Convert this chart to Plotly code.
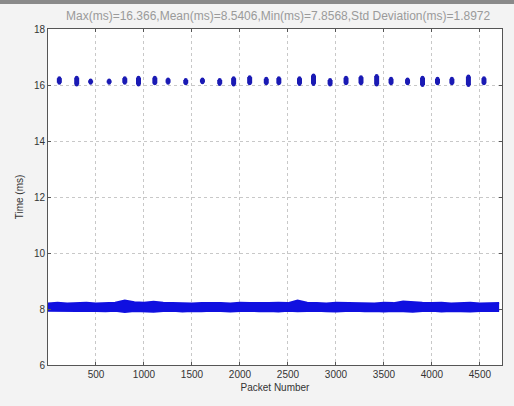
import plotly.graph_objects as go

# Main band (~8 ms) read as upper/lower envelope every 100 packets
band_x = list(range(0, 4800, 100))
band_hi = [8.20, 8.22, 8.20, 8.21, 8.22, 8.20, 8.21, 8.22, 8.30, 8.24, 8.22, 8.26, 8.22, 8.21, 8.22, 8.20,
           8.21, 8.22, 8.21, 8.20, 8.22, 8.21, 8.20, 8.21, 8.22, 8.21, 8.30, 8.22, 8.21, 8.20, 8.22, 8.21,
           8.22, 8.21, 8.20, 8.22, 8.21, 8.27, 8.24, 8.22, 8.21, 8.22, 8.20, 8.21, 8.22, 8.20, 8.21, 8.21]
band_lo = [7.94, 7.93, 7.94, 7.93, 7.94, 7.93, 7.92, 7.94, 7.89, 7.93, 7.92, 7.90, 7.93, 7.94, 7.91, 7.93,
           7.92, 7.94, 7.93, 7.91, 7.93, 7.94, 7.92, 7.93, 7.91, 7.94, 7.92, 7.93, 7.94, 7.92, 7.91, 7.93,
           7.94, 7.92, 7.93, 7.91, 7.93, 7.92, 7.90, 7.93, 7.94, 7.91, 7.93, 7.92, 7.91, 7.93, 7.92, 7.93]

# Upper clusters (~16 ms)
cluster_x = [118, 299, 444, 637, 800, 943, 1113, 1251, 1435, 1609, 1789, 1934, 2101, 2274, 2405, 2620,
             2766, 2939, 3105, 3261, 3424, 3574, 3746, 3902, 4058, 4208, 4380, 4542]
cluster_lo = [16.08, 16.02, 16.08, 16.08, 16.08, 16.02, 16.06, 16.08, 16.06, 16.10, 16.04, 16.02, 16.06, 16.06, 16.06, 16.04,
              16.04, 16.02, 16.06, 16.06, 16.02, 16.06, 16.06, 16.00, 16.06, 16.06, 16.00, 16.06]
cluster_hi = [16.24, 16.26, 16.16, 16.16, 16.24, 16.26, 16.26, 16.20, 16.18, 16.20, 16.18, 16.24, 16.28, 16.22, 16.24, 16.24,
              16.34, 16.18, 16.26, 16.28, 16.32, 16.22, 16.20, 16.26, 16.22, 16.22, 16.30, 16.24]

x_ticks = [500, 1000, 1500, 2000, 2500, 3000, 3500, 4000, 4500]
y_ticks = [6, 8, 10, 12, 14, 16, 18]
title_text = "Max(ms)=16.366,Mean(ms)=8.5406,Min(ms)=7.8568,Std Deviation(ms)=1.8972"

blue = "#1010e0"
dark_blue = "#1a1ab4"

fig = go.Figure()

fig.add_trace(go.Scatter(x=band_x, y=band_lo, mode="lines", line=dict(color=blue, width=2),
                         hoverinfo="skip", showlegend=False))
fig.add_trace(go.Scatter(x=band_x, y=band_hi, mode="lines", line=dict(color=blue, width=2),
                         fill="tonexty", fillcolor=blue, hoverinfo="skip", showlegend=False))

cx, cy = [], []
for x, lo, hi in zip(cluster_x, cluster_lo, cluster_hi):
    cx += [x, x, None]
    cy += [lo, hi, None]
fig.add_trace(go.Scatter(x=cx, y=cy, mode="lines+markers", line=dict(color=dark_blue, width=5),
                         marker=dict(color=dark_blue, size=4), showlegend=False))

axis_common = dict(showline=True, linecolor="#555", linewidth=1, mirror="ticks",
                   ticks="inside", ticklen=3, tickcolor="#555", automargin=False,
                   showgrid=True, gridcolor="#c8c8c8", griddash="dot", gridwidth=1,
                   zeroline=False, tickfont=dict(family="Liberation Sans", size=10, color="#333"))

fig.update_layout(
    width=514, height=406,
    margin=dict(l=48, r=12, t=29, b=41),
    paper_bgcolor="#f3f3f3", plot_bgcolor="white",
    xaxis=dict(range=[0, 4730], tickvals=x_ticks, **axis_common,
               title=dict(text="Packet Number", font=dict(family="Liberation Sans", size=10, color="#333"), standoff=4)),
    yaxis=dict(range=[6, 18], tickvals=y_ticks, **axis_common,
               title=dict(text="Time (ms)", font=dict(family="Liberation Sans", size=10, color="#333"), standoff=8)),
    shapes=[dict(type="rect", xref="paper", yref="paper", x0=-0.2, x1=1.2, y0=1.0 + 25/336, y1=1.2,
                 fillcolor="#8a8a8a", line=dict(width=0), layer="above")],
    annotations=[dict(text=title_text, xref="paper", yref="paper", x=(278 - 48) / 454, y=1.0 + 13/336,
                      xanchor="center", yanchor="middle", showarrow=False,
                      font=dict(family="Liberation Sans", size=12, color="#9a9a9a"))],
)

fig.write_html("out.html", config={"displayModeBar": False},
               post_script="document.body.style.margin='0';document.body.style.background='#f3f3f3';")
